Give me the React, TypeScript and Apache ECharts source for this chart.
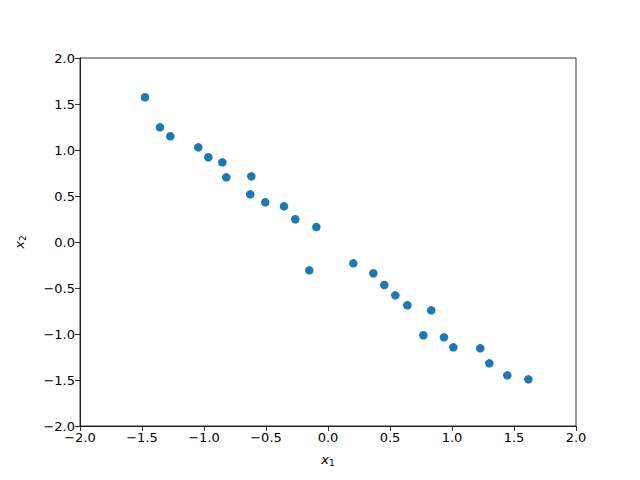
import React, { useEffect, useRef } from "react";
import * as echarts from "echarts";

const x1Values = [
  -1.476, -1.355, -1.272, -1.046, -0.965, -0.852, -0.82, -0.618, -0.627, -0.506,
  -0.355, -0.264, -0.094, -0.151, 0.204, 0.366, 0.454, 0.543, 0.64, 0.833, 0.769,
  0.935, 1.011, 1.228, 1.301, 1.446, 1.616,
];
const x2Values = [
  1.573, 1.247, 1.149, 1.029, 0.921, 0.866, 0.703, 0.714, 0.518, 0.432, 0.388,
  0.247, 0.163, -0.308, -0.232, -0.34, -0.467, -0.58, -0.688, -0.743, -1.014,
  -1.036, -1.145, -1.156, -1.319, -1.449, -1.493,
];
const axisMin = -2;
const axisMax = 2;
const tickStep = 0.5;

const fmt = (v: number) => v.toFixed(1).replace("-", "\u2212");
const FONT = "DejaVu Sans";

export default function App() {
  const ref = useRef<HTMLDivElement>(null);
  useEffect(() => {
    if (!ref.current) return;
    const chart = echarts.init(ref.current, undefined, { renderer: "svg" });
    const data = x1Values.map((x, i) => [x, x2Values[i]]);
    const rich = {
      i: { fontStyle: "italic", fontSize: 13, fontFamily: FONT, color: "#000" },
      s: { fontSize: 9, fontFamily: FONT, color: "#000", padding: [7, 0, 0, 0] },
    };
    const axisCommon = {
      type: "value" as const,
      min: axisMin,
      max: axisMax,
      interval: tickStep,
      splitLine: { show: false },
      axisLine: { show: true, onZero: false, lineStyle: { color: "#000", width: 0.8 } },
      axisTick: { show: true, inside: false, length: 5, lineStyle: { color: "#000", width: 0.8 } },
      axisLabel: {
        color: "#000",
        fontFamily: FONT,
        fontSize: 13,
        margin: 5,
        formatter: fmt,
        showMinLabel: true,
        showMaxLabel: true,
      },
      nameLocation: "middle" as const,
    };
    chart.setOption({
      animation: false,
      backgroundColor: "#fff",
      grid: {
        left: 80,
        top: 58,
        width: 496,
        height: 368,
        show: true,
        borderColor: "#000",
        borderWidth: 0.8,
        backgroundColor: "transparent",
      },
      xAxis: {
        ...axisCommon,
        name: "{i|x}{s|1}",
        nameGap: 25,
        nameTextStyle: { color: "#000", fontFamily: FONT, rich },
      },
      yAxis: {
        ...axisCommon,
        name: "{i|x}{s|2}",
        nameGap: 53,
        nameRotate: 90,
        nameTextStyle: { color: "#000", fontFamily: FONT, rich },
      },
      series: [
        {
          type: "scatter",
          data,
          symbol: "circle",
          symbolSize: 8.5,
          itemStyle: { color: "#1f77b4", opacity: 1 },
        },
      ],
    });
    return () => chart.dispose();
  }, []);
  return (
    <div
      ref={ref}
      style={{ position: "absolute", left: 0, top: 0, width: 640, height: 480 }}
    />
  );
}
